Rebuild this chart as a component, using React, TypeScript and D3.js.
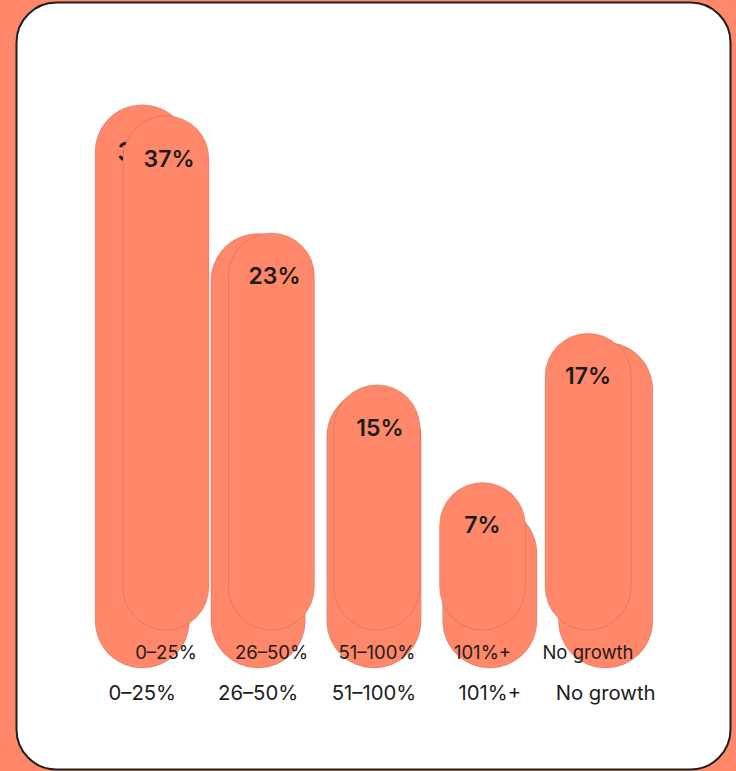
import React from "react";
import * as d3 from "d3";

const categories = ["0–25%", "26–50%", "51–100%", "101%+", "No growth"];
const valueLabels = [37, 23, 15, 7, 17];
// animated (mid-tween) bar values for the two overlapping copies of the chart
const frontBarValues = [37, 27.4, 15, 7, 19.2];
const backBarValues = [36.9, 27.3, 15.7, 7.0, 19.2];

const W = 736;
const H = 771;
const SALMON = "#FF876A";
const INK = "#1c1c1c";

type LayerProps = { barValues: number[]; transform: string };

function Layer({ barValues, transform }: LayerProps) {
  const x = d3
    .scaleBand<string>()
    .domain(categories)
    .range([113.25, 640.75])
    .paddingInner(0.185)
    .paddingOuter(0.0925);
  const baseline = 630;
  const y = d3.scaleLinear().domain([0, 40]).range([568, 79]);
  const bw = x.bandwidth();
  return (
    <g transform={transform}>
      {categories.map((c, i) => {
        const top = y(barValues[i]);
        return (
          <rect
            key={"b" + c}
            x={x(c)}
            y={top}
            width={bw}
            height={baseline - top}
            rx={bw / 2}
            ry={bw / 2}
            fill={SALMON}
            stroke="rgba(60,40,30,0.28)"
            strokeWidth={0.5}
          />
        );
      })}
      {categories.map((c, i) => (
        <text
          key={"v" + c}
          x={(x(c) as number) + bw / 2 + (i < 3 ? 3 : 0)}
          y={y(barValues[i]) + 51}
          textAnchor="middle"
          fontFamily="Inter, 'DejaVu Sans', sans-serif"
          fontWeight={600}
          fontSize={23}
          fill={INK}
        >
          {valueLabels[i] + "%"}
        </text>
      ))}
      {categories.map((c) => (
        <text
          key={"c" + c}
          x={(x(c) as number) + bw / 2}
          y={659}
          textAnchor="middle"
          fontFamily="Inter, 'DejaVu Sans', sans-serif"
          fontWeight={400}
          fontSize={18.5}
          fill={INK}
        >
          {c}
        </text>
      ))}
    </g>
  );
}

export default function App() {
  return (
    <svg
      width={W}
      height={H}
      style={{ position: "fixed", left: 0, top: 0, display: "block" }}
    >
      <rect x={0} y={0} width={W} height={H} fill={SALMON} />
      <rect
        x={16.5}
        y={2.5}
        width={714}
        height={767}
        rx={40}
        ry={40}
        fill="#ffffff"
        stroke="#1f1f1f"
        strokeWidth={2}
      />
      <Layer barValues={backBarValues} transform="translate(-40,-23.7) scale(1.098)" />
      <Layer barValues={frontBarValues} transform="" />
    </svg>
  );
}
